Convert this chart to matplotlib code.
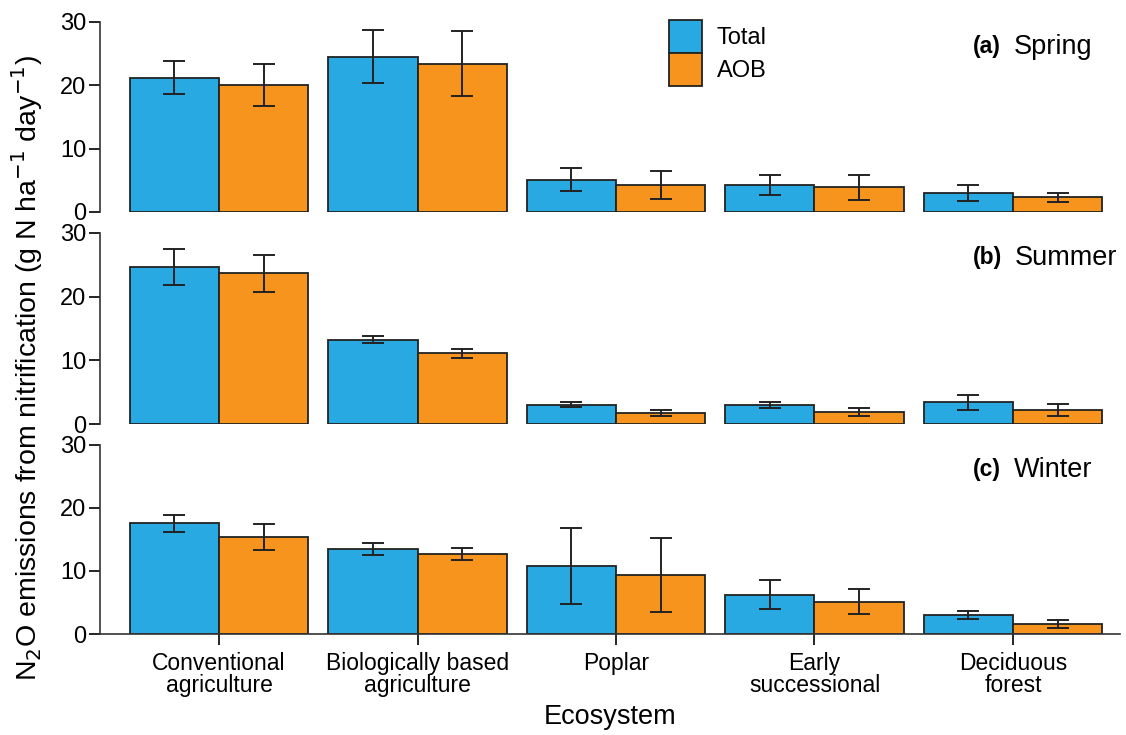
import matplotlib
matplotlib.use("Agg")
from matplotlib import pyplot as plt
from matplotlib.patches import Patch
import numpy as np

plt.rcParams['font.family'] = ['Liberation Sans', 'DejaVu Sans']

ecosystems = ['Conventional\nagriculture', 'Biologically based\nagriculture', 'Poplar',
              'Early\nsuccessional', 'Deciduous\nforest']
seasons = ['Spring', 'Summer', 'Winter']
panel_tags = ['(a)', '(b)', '(c)']

total_mean = [
    [21.2, 24.5, 5.1, 4.3, 3.0],
    [24.7, 13.2, 3.0, 3.0, 3.4],
    [17.6, 13.5, 10.8, 6.2, 3.0],
]
total_err = [
    [2.6, 4.2, 1.8, 1.6, 1.3],
    [2.85, 0.55, 0.4, 0.5, 1.15],
    [1.35, 0.95, 6.1, 2.3, 0.65],
]
aob_mean = [
    [20.1, 23.4, 4.3, 3.9, 2.3],
    [23.7, 11.1, 1.7, 1.9, 2.2],
    [15.4, 12.7, 9.4, 5.1, 1.6],
]
aob_err = [
    [3.3, 5.1, 2.2, 2.0, 0.65],
    [2.9, 0.7, 0.5, 0.6, 1.0],
    [2.0, 1.0, 5.9, 2.0, 0.6],
]

blue = '#29a9e1'
orange = '#f7941d'
ink = '#222222'

fig = plt.figure(figsize=(11.26, 7.35), dpi=100)

# panel boxes (left, bottom, width, height) in figure fractions
boxes = [
    [0.0888, 0.7116, 0.906, 0.2585],
    [0.0888, 0.4231, 0.906, 0.2599],
    [0.0888, 0.1374, 0.906, 0.2572],
]

x = np.arange(len(ecosystems))
w = 0.45
ekw = dict(elinewidth=1.4, capthick=1.4, ecolor=ink)

for i in range(3):
    ax = fig.add_axes(boxes[i])
    ax.bar(x - w/2, total_mean[i], w, color=blue, edgecolor=ink, linewidth=1.3,
           yerr=total_err[i], capsize=8, error_kw=ekw, label='Total')
    ax.bar(x + w/2, aob_mean[i], w, color=orange, edgecolor=ink, linewidth=1.3,
           yerr=aob_err[i], capsize=8, error_kw=ekw, label='AOB')
    ax.set_xlim(-0.6, 4.54)
    ax.set_ylim(0, 30)
    ax.set_yticks([0, 10, 20, 30])
    ax.tick_params(axis='y', labelsize=17, length=8, width=1.2, direction='out', pad=2)
    for s in ['top', 'right']:
        ax.spines[s].set_visible(False)
    ax.spines['left'].set_linewidth(1.2)
    ax.spines['left'].set_color('#333333')
    if i < 2:
        ax.spines['bottom'].set_visible(False)
        ax.set_xticks([])
    else:
        ax.spines['bottom'].set_linewidth(1.2)
        ax.spines['bottom'].set_color('#333333')
        ax.set_xticks(x)
        ax.set_xticklabels(ecosystems, fontsize=16.5, linespacing=0.95)
        ax.tick_params(axis='x', length=8, width=1.2, pad=5)
        ax.set_xlabel('Ecosystem', fontsize=19.5, labelpad=5)
    tag = ax.text(0.856, 0.87, panel_tags[i], transform=ax.transAxes, fontsize=16.5,
                  fontweight='bold', ha='left', va='center')
    ax.annotate(seasons[i], xy=(1, 0.5), xycoords=tag, xytext=(9, 0),
                textcoords='offset points', fontsize=19.5, ha='left', va='center')
    if i == 0:
        handles = [Patch(facecolor=blue, edgecolor=ink, linewidth=1.3),
                   Patch(facecolor=orange, edgecolor=ink, linewidth=1.3)]
        ax.legend(handles, ['Total', 'AOB'], loc='upper left', bbox_to_anchor=(0.558, 1.01),
                  frameon=False, fontsize=17, handlelength=1.4, handleheight=1.75,
                  handletextpad=0.6, labelspacing=0.02, borderpad=0, borderaxespad=0)

fig.text(0.024, 0.50, 'N$_2$O emissions from nitrification (g N ha$^{-1}$ day$^{-1}$)',
         rotation=90, ha='center', va='center', fontsize=20.5)

fig.savefig('out.png', dpi=100)
